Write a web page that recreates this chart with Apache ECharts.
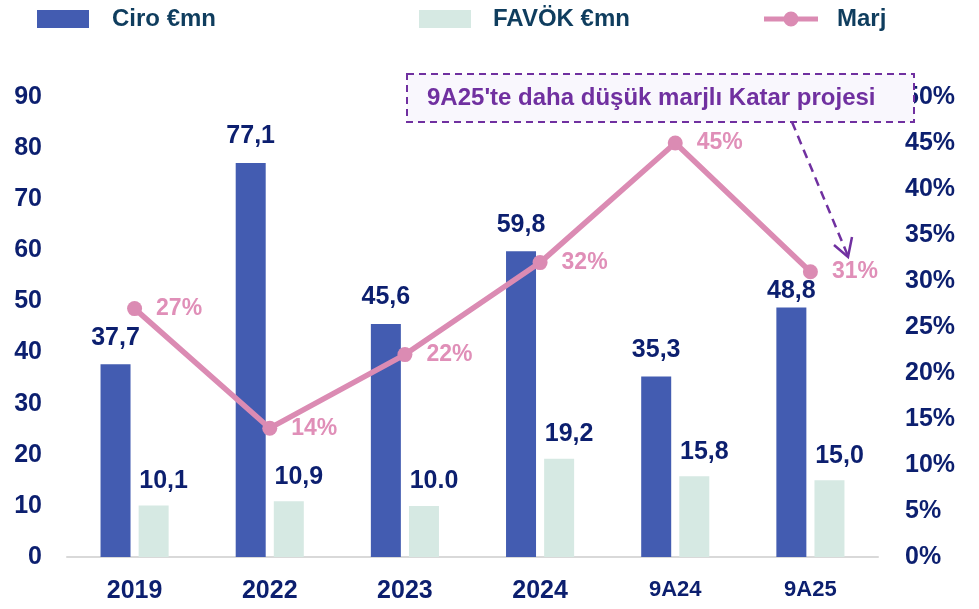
<!DOCTYPE html>
<html>
<head>
<meta charset="utf-8">
<script src="https://cdn.jsdelivr.net/npm/echarts@6/dist/echarts.min.js"></script>
<style>
html,body{margin:0;padding:0;background:#fff;}
#c{width:979px;height:609px;}
</style>
</head>
<body>
<div id="c"></div>
<script>
const categories = ['2019', '2022', '2023', '2024', '9A24', '9A25'];
const ciro = [37.7, 77.1, 45.6, 59.8, 35.3, 48.8];
const favok = [10.1, 10.9, 10.0, 19.2, 15.8, 15.0];
const marj = [27, 14, 22, 32, 45, 31];
const ciroLabels = ['37,7', '77,1', '45,6', '59,8', '35,3', '48,8'];
const favokLabels = ['10,1', '10,9', '10.0', '19,2', '15,8', '15,0'];
const leftTicks = [0, 90, 10];
const rightTicks = [0, 50, 5];
const annotation = "9A25'te daha düşük marjlı Katar projesi";

const FONT = '"Liberation Sans", Arial, sans-serif';
const NAVY = '#0c1f6f';
const LEG = '#0f3d5e';
const BLUE = '#435cb1';
const MINT = '#d6e9e3';
const PINK = '#db8bb3';
const PURPLE = '#7030a0';

const chart = echarts.init(document.getElementById('c'), null, {renderer: 'canvas'});

const legendText = {fontFamily: FONT, fontSize: 24, fontWeight: 'bold', color: LEG};
function mkLegend(left, name, icon, w, h, pad) {
  return {
    orient: 'horizontal', top: 7, left: left, padding: 0,
    itemWidth: w, itemHeight: h,
    data: [{name: name, icon: icon}],
    textStyle: Object.assign({}, legendText, {padding: [0, 0, 0, pad]})
  };
}
const lineIcon = 'path://M0,5.5H54V10.5H0Z M19.5,8a7.5,7.5 0 1,1 15,0a7.5,7.5 0 1,1 -15,0Z';

// the last revenue label sits closer to its bar (it is just below the margin point)
const ciroData = ciro.map(function (v, i) {
  return i === ciro.length - 1 ? {value: v, label: {distance: 4}} : v;
});

chart.setOption({
  animation: false,
  backgroundColor: '#ffffff',
  legend: [
    mkLegend(37, 'Ciro €mn', 'rect', 52, 18, 18),
    mkLegend(419, 'FAVÖK €mn', 'rect', 52, 18, 17),
    mkLegend(764, 'Marj', lineIcon, 54, 15, 14)
  ],
  grid: {left: 67, right: 101, top: 97, bottom: 52},
  xAxis: {
    type: 'category',
    data: categories,
    axisLine: {show: true, lineStyle: {color: '#d9d9d9', width: 2}},
    axisTick: {show: false},
    axisLabel: {
      margin: 22,
      formatter: function (v) { return v.indexOf('9A') === 0 ? '{s|' + v + '}' : '{b|' + v + '}'; },
      rich: {
        b: {fontFamily: FONT, fontSize: 25, fontWeight: 'bold', color: NAVY},
        s: {fontFamily: FONT, fontSize: 22, fontWeight: 'bold', color: NAVY}
      }
    }
  },
  yAxis: [
    {
      type: 'value', min: leftTicks[0], max: leftTicks[1], interval: leftTicks[2],
      axisLine: {show: false}, axisTick: {show: false}, splitLine: {show: false},
      axisLabel: {margin: 25, fontFamily: FONT, fontSize: 25, fontWeight: 'bold', color: NAVY}
    },
    {
      type: 'value', min: rightTicks[0], max: rightTicks[1], interval: rightTicks[2],
      axisLine: {show: false}, axisTick: {show: false}, splitLine: {show: false},
      axisLabel: {margin: 27, fontFamily: FONT, fontSize: 25, fontWeight: 'bold', color: NAVY,
        formatter: function (v) { return v + '%'; }}
    }
  ],
  series: [
    {
      name: 'Ciro €mn', type: 'bar', data: ciroData, barWidth: 30, barGap: '27%',
      itemStyle: {color: BLUE},
      label: {show: true, position: 'top', distance: 14, fontFamily: FONT, fontSize: 25,
        fontWeight: 'bold', color: NAVY, formatter: function (p) { return ciroLabels[p.dataIndex]; }}
    },
    {
      name: 'FAVÖK €mn', type: 'bar', data: favok, barWidth: 30,
      itemStyle: {color: MINT},
      label: {show: true, position: 'top', distance: 12, offset: [10, 0], fontFamily: FONT, fontSize: 25,
        fontWeight: 'bold', color: NAVY, formatter: function (p) { return favokLabels[p.dataIndex]; }}
    },
    {
      name: 'Marj', type: 'line', yAxisIndex: 1, data: marj,
      symbol: 'circle', symbolSize: 15,
      lineStyle: {color: PINK, width: 5.5},
      itemStyle: {color: PINK},
      label: {show: true, position: 'right', distance: 14, fontFamily: FONT, fontSize: 23,
        fontWeight: 'bold', color: '#e08fb8', formatter: function (p) { return p.value + '%'; }},
      z: 5
    }
  ],
  graphic: [
    {
      type: 'rect', z: 100, left: 406, top: 73,
      shape: {x: 0, y: 0, width: 507, height: 48},
      style: {fill: '#f9f7fd', stroke: PURPLE, lineWidth: 2, lineDash: [7, 5]}
    },
    {
      type: 'text', z: 101, left: 427, top: 86,
      style: {text: annotation, fill: PURPLE, font: 'bold 24px ' + FONT}
    },
    {
      type: 'polyline', z: 100,
      shape: {points: [[792, 122], [848, 256]]},
      style: {stroke: PURPLE, lineWidth: 2.5, lineDash: [9, 6], fill: null}
    },
    {
      type: 'polyline', z: 100,
      shape: {points: [[834, 245], [848, 257], [852, 237]]},
      style: {stroke: PURPLE, lineWidth: 2.5, fill: null}
    }
  ]
});
</script>
</body>
</html>
